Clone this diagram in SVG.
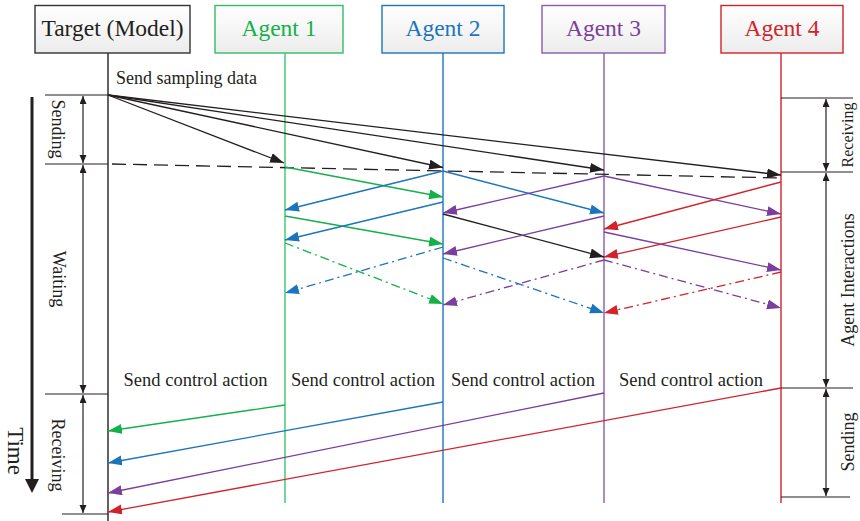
<svg xmlns="http://www.w3.org/2000/svg" width="860" height="521" viewBox="0 0 860 521">
  <style>
    text { font-family: "Liberation Serif", "Times New Roman", serif; fill: #231f20; }
    .head { font-size: 23.5px; text-anchor: middle; }
    .lbl { font-size: 18.5px; text-anchor: middle; }
    .side { font-size: 18px; text-anchor: middle; }
    .box { stroke-width: 1.4; fill: url(#boxFill); }
    .life { stroke-width: 1.4; fill: none; }
    .ln { stroke-width: 1.3; fill: none; }
    .dd { stroke-dasharray: 9 4 2 4; }
    .rule { stroke: #231f20; stroke-width: 1.2; fill: none; }
    .blk { stroke: #231f20; }
    .grn { stroke: #14b04a; }
    .blu { stroke: #1b75bc; }
    .pur { stroke: #7a3f9d; }
    .red { stroke: #d2232a; }
  </style>
  <defs>
    <linearGradient id="boxFill" x1="0" y1="0" x2="0" y2="1">
      <stop offset="0" stop-color="#ffffff"/>
      <stop offset="1" stop-color="#ececec"/>
    </linearGradient>
    <marker id="aBlk" markerUnits="userSpaceOnUse" markerWidth="15" markerHeight="11" refX="14" refY="5" orient="auto"><path d="M0,0 L14,5 L0,10 z" fill="#231f20"/></marker>
    <marker id="aGrn" markerUnits="userSpaceOnUse" markerWidth="15" markerHeight="11" refX="14" refY="5" orient="auto"><path d="M0,0 L14,5 L0,10 z" fill="#14b04a"/></marker>
    <marker id="aBlu" markerUnits="userSpaceOnUse" markerWidth="15" markerHeight="11" refX="14" refY="5" orient="auto"><path d="M0,0 L14,5 L0,10 z" fill="#1b75bc"/></marker>
    <marker id="aPur" markerUnits="userSpaceOnUse" markerWidth="15" markerHeight="11" refX="14" refY="5" orient="auto"><path d="M0,0 L14,5 L0,10 z" fill="#7a3f9d"/></marker>
    <marker id="aRed" markerUnits="userSpaceOnUse" markerWidth="15" markerHeight="11" refX="14" refY="5" orient="auto"><path d="M0,0 L14,5 L0,10 z" fill="#d2232a"/></marker>
    <marker id="dim" markerUnits="userSpaceOnUse" markerWidth="9" markerHeight="8" refX="8" refY="3.5" orient="auto-start-reverse"><path d="M0,0 L8,3.5 L0,7 z" fill="#231f20"/></marker>
    <marker id="bigHead" markerUnits="userSpaceOnUse" markerWidth="15" markerHeight="15" refX="1" refY="7" orient="auto"><path d="M0,0 L14,7 L0,14 z" fill="#231f20"/></marker>
  </defs>

  <!-- participants with lifelines -->
  <g id="target">
    <line class="life" stroke="#231f20" x1="108" y1="53" x2="108" y2="521"/>
    <rect class="box" stroke="#333333" x="35" y="5.5" width="155" height="47.5"/>
    <text class="head" x="112.5" y="36">Target (Model)</text>
  </g>
  <g id="agent1">
    <line class="life" stroke="#3cc46c" x1="285" y1="53" x2="285" y2="503"/>
    <rect class="box" stroke="#2fbf63" x="215" y="5.5" width="128" height="47.5"/>
    <text class="head" x="279" y="36" style="fill:#14b04a">Agent 1</text>
  </g>
  <g id="agent2">
    <line class="life" stroke="#1b75bc" x1="443" y1="53" x2="443" y2="503"/>
    <rect class="box" stroke="#1b75bc" x="382" y="5.5" width="122" height="47.5"/>
    <text class="head" x="443" y="36" style="fill:#1b75bc">Agent 2</text>
  </g>
  <g id="agent3">
    <line class="life" stroke="#8a5aae" x1="604" y1="53" x2="604" y2="503"/>
    <rect class="box" stroke="#8a5aae" x="542" y="5.5" width="123" height="47.5"/>
    <text class="head" x="603.5" y="36" style="fill:#7a3f9d">Agent 3</text>
  </g>
  <g id="agent4">
    <line class="life" stroke="#d2232a" x1="781" y1="53" x2="781" y2="503"/>
    <rect class="box" stroke="#d2232a" x="721" y="5.5" width="122" height="47.5"/>
    <text class="head" x="782" y="36" style="fill:#d2232a">Agent 4</text>
  </g>

  <!-- time axis and phase brackets on the target side -->
  <g id="time-axis">
    <line x1="32" y1="97" x2="32" y2="480" stroke="#231f20" stroke-width="3" marker-end="url(#bigHead)"/>
    <text transform="translate(8,451) rotate(90)" style="font-size:23px" text-anchor="middle">Time</text>
  </g>
  <g id="target-phases">
    <line class="rule" x1="45" y1="95" x2="108" y2="95"/>
    <line class="rule" x1="45" y1="164" x2="108" y2="164"/>
    <line class="rule" x1="45" y1="394" x2="108" y2="394"/>
    <line class="rule" x1="62" y1="514" x2="108" y2="514"/>
    <line class="rule" x1="83" y1="96" x2="83" y2="163" marker-start="url(#dim)" marker-end="url(#dim)"/>
    <line class="rule" x1="83" y1="165" x2="83" y2="393" marker-start="url(#dim)" marker-end="url(#dim)"/>
    <line class="rule" x1="83" y1="395" x2="83" y2="513" marker-start="url(#dim)" marker-end="url(#dim)"/>
    <text class="side" transform="translate(52,129) rotate(90)">Sending</text>
    <text class="side" transform="translate(53,279) rotate(90)">Waiting</text>
    <text class="side" transform="translate(52,455) rotate(90)">Receiving</text>
  </g>

  <!-- phase brackets on the agent side -->
  <g id="agent-phases">
    <line class="rule" x1="781" y1="98" x2="853" y2="98"/>
    <line class="rule" x1="781" y1="172" x2="853" y2="172"/>
    <line class="rule" x1="781" y1="388" x2="853" y2="388"/>
    <line class="rule" x1="781" y1="497" x2="850" y2="497"/>
    <line class="rule" x1="826" y1="99" x2="826" y2="171" marker-start="url(#dim)" marker-end="url(#dim)"/>
    <line class="rule" x1="826" y1="173" x2="826" y2="387" marker-start="url(#dim)" marker-end="url(#dim)"/>
    <line class="rule" x1="826" y1="389" x2="826" y2="496" marker-start="url(#dim)" marker-end="url(#dim)"/>
    <text transform="translate(853,135) rotate(-90)" style="font-size:16px" text-anchor="middle">Receiving</text>
    <text class="side" transform="translate(854,280) rotate(-90)">Agent Interactions</text>
    <text class="side" transform="translate(854,442) rotate(-90)">Sending</text>
  </g>

  <!-- labels -->
  <g id="labels">
    <text x="116" y="84" style="font-size:18px">Send sampling data</text>
    <text class="lbl" x="195.5" y="386">Send control action</text>
    <text class="lbl" x="363" y="386">Send control action</text>
    <text class="lbl" x="523" y="386">Send control action</text>
    <text class="lbl" x="691" y="386">Send control action</text>
  </g>

  <g id="connectors">
    <!-- sampling data broadcast -->
    <line class="ln blk" x1="108" y1="95" x2="284" y2="163" marker-end="url(#aBlk)"/>
    <line class="ln blk" x1="108" y1="95" x2="443" y2="167.5" marker-end="url(#aBlk)"/>
    <line class="ln blk" x1="108" y1="95" x2="604" y2="170" marker-end="url(#aBlk)"/>
    <line class="ln blk" x1="108" y1="95" x2="781" y2="175" marker-end="url(#aBlk)"/>
    <line class="ln blk" x1="112" y1="164" x2="781" y2="178" stroke-dasharray="14 7"/>

    <!-- agent 1 -->
    <line class="ln grn" x1="285" y1="167" x2="443" y2="197" marker-end="url(#aGrn)"/>
    <line class="ln grn" x1="285" y1="216" x2="443" y2="244" marker-end="url(#aGrn)"/>
    <line class="ln grn dd" x1="285" y1="243" x2="443" y2="304" marker-end="url(#aGrn)"/>

    <!-- agent 2 -->
    <line class="ln blu" x1="443" y1="171" x2="285" y2="210" marker-end="url(#aBlu)"/>
    <line class="ln blu" x1="443" y1="202" x2="285" y2="240" marker-end="url(#aBlu)"/>
    <line class="ln blu dd" x1="443" y1="247" x2="285" y2="293" marker-end="url(#aBlu)"/>
    <line class="ln blu" x1="443" y1="171" x2="604" y2="213" marker-end="url(#aBlu)"/>
    <line class="ln blu dd" x1="443" y1="258" x2="604" y2="313" marker-end="url(#aBlu)"/>
    <line class="ln blk" x1="443" y1="214" x2="604" y2="257" marker-end="url(#aBlk)"/>

    <!-- agent 3 -->
    <line class="ln pur" x1="604" y1="176" x2="443" y2="213" marker-end="url(#aPur)"/>
    <line class="ln pur" x1="604" y1="216" x2="443" y2="254" marker-end="url(#aPur)"/>
    <line class="ln pur dd" x1="604" y1="260" x2="443" y2="305" marker-end="url(#aPur)"/>
    <line class="ln pur" x1="604" y1="176" x2="781" y2="214" marker-end="url(#aPur)"/>
    <line class="ln pur" x1="604" y1="232" x2="781" y2="270" marker-end="url(#aPur)"/>
    <line class="ln pur dd" x1="604" y1="260" x2="781" y2="308" marker-end="url(#aPur)"/>

    <!-- agent 4 -->
    <line class="ln red" x1="781" y1="182" x2="604" y2="229" marker-end="url(#aRed)"/>
    <line class="ln red" x1="781" y1="217" x2="604" y2="257" marker-end="url(#aRed)"/>
    <line class="ln red dd" x1="781" y1="272" x2="604" y2="313" marker-end="url(#aRed)"/>

    <!-- control actions back to the target -->
    <line class="ln grn" x1="285" y1="405" x2="108" y2="431" marker-end="url(#aGrn)"/>
    <line class="ln blu" x1="443" y1="402" x2="108" y2="463" marker-end="url(#aBlu)"/>
    <line class="ln pur" x1="604" y1="393" x2="108" y2="493" marker-end="url(#aPur)"/>
    <line class="ln red" x1="781" y1="388" x2="108" y2="512" marker-end="url(#aRed)"/>
  </g>
</svg>
